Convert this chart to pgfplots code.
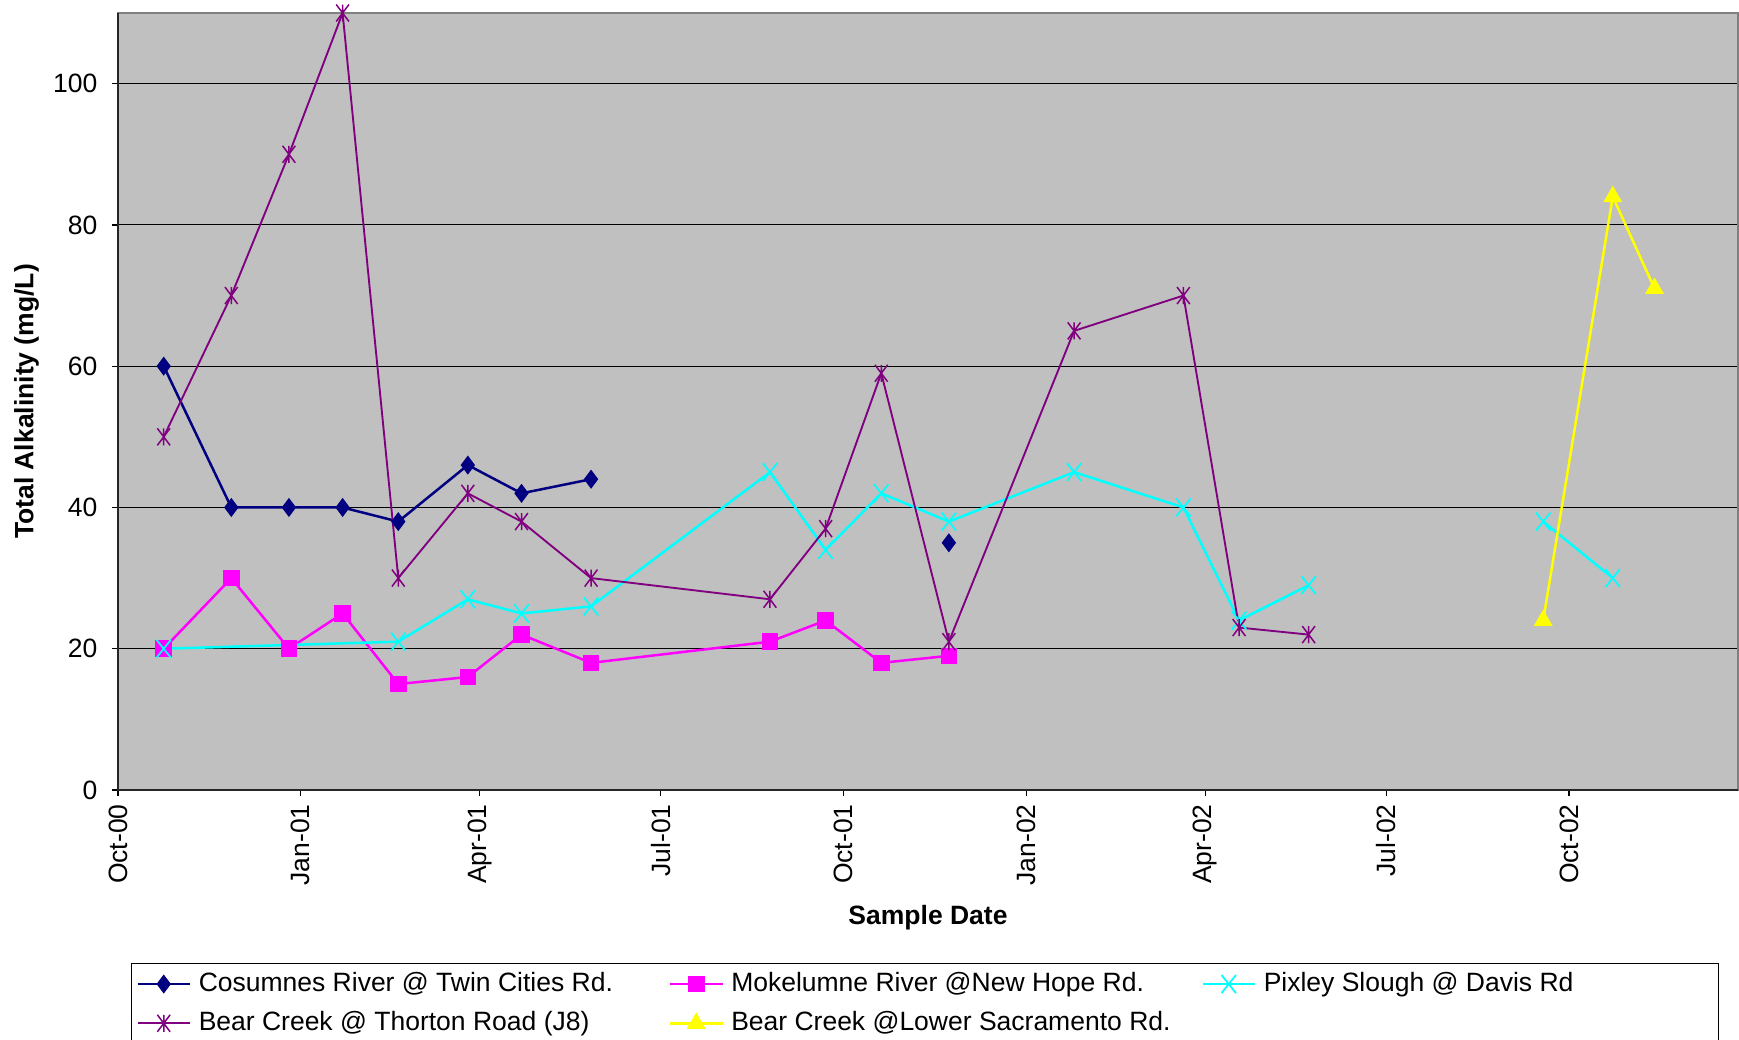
\documentclass[border=0pt]{standalone}
\usepackage{pgfplots}
\pgfplotsset{compat=1.18}
\usepackage{fontspec}
\setmainfont{Liberation Sans}
\definecolor{bgray}{RGB}{192,192,192}
\definecolor{navy}{RGB}{0,0,128}
\definecolor{mag}{RGB}{255,0,255}
\definecolor{cyn}{RGB}{0,255,255}
\definecolor{purp}{RGB}{128,0,128}
\definecolor{yel}{RGB}{255,255,0}
\definecolor{frame}{RGB}{128,128,128}
\pgfdeclareplotmark{xstar}{%
  \pgfpathmoveto{\pgfqpoint{-.75\pgfplotmarksize}{-\pgfplotmarksize}}%
  \pgfpathlineto{\pgfqpoint{.75\pgfplotmarksize}{\pgfplotmarksize}}%
  \pgfpathmoveto{\pgfqpoint{-.75\pgfplotmarksize}{\pgfplotmarksize}}%
  \pgfpathlineto{\pgfqpoint{.75\pgfplotmarksize}{-\pgfplotmarksize}}%
  \pgfpathmoveto{\pgfqpoint{0pt}{-\pgfplotmarksize}}%
  \pgfpathlineto{\pgfqpoint{0pt}{\pgfplotmarksize}}%
  \pgfusepathqstroke}
\pgfdeclareplotmark{xcross}{%
  \pgfpathmoveto{\pgfqpoint{-.8\pgfplotmarksize}{-\pgfplotmarksize}}%
  \pgfpathlineto{\pgfqpoint{.8\pgfplotmarksize}{\pgfplotmarksize}}%
  \pgfpathmoveto{\pgfqpoint{-.8\pgfplotmarksize}{\pgfplotmarksize}}%
  \pgfpathlineto{\pgfqpoint{.8\pgfplotmarksize}{-\pgfplotmarksize}}%
  \pgfusepathqstroke}
\newcommand{\fs}{\fontsize{10.6}{12.7}\selectfont}
\begin{document}
\begin{tikzpicture}
\path[use as bounding box] (-47.2pt,-99.6pt) rectangle (648.4pt,316pt);
\clip (-47.2pt,-99.6pt) rectangle (648.4pt,316pt);
\begin{axis}[
  at={(0pt,0pt)}, anchor=south west,
  scale only axis, width=648pt, height=310.8pt,
  xmin=0, xmax=815, ymin=0, ymax=110,
  clip=false,
  unbounded coords=jump,
  xtick={0,92,182,273,365,457,547,638,730},
  xticklabels={Oct-00,Jan-01,Apr-01,Jul-01,Oct-01,Jan-02,Apr-02,Jul-02,Oct-02},
  ytick={0,20,40,60,80,100},
  /pgf/number format/assume math mode=true,
  tick label style={font=\fs},
  x tick label style={rotate=90, anchor=east},
  y tick label style={xshift=-2.5pt},
  tick align=outside, tick pos=left, major tick length=2.2pt,
  tick style={black, line width=0.5pt},
  ymajorgrids, grid style={black, line width=0.4pt},
  axis background/.style={fill=bgray},
  axis line style={draw=frame, line width=0.8pt},
  xlabel={Sample Date},
  ylabel={Total Alkalinity (mg/L)},
  label style={font=\fs\bfseries},
  xlabel style={at={(axis description cs:0.5,-0.1647)}, anchor=center},
  ylabel style={at={(axis description cs:-0.0565,0.5)}, anchor=center},
  legend columns=3,
  legend cell align=left,
  legend image code/.code={\draw[mark repeat=2,mark phase=2] plot coordinates {(0pt,0pt) (10.5pt,0pt) (21pt,0pt)};},
  legend style={at={(0.00802,-0.2227)}, anchor=north west, draw=black, fill=white,
    font=\fs, inner xsep=1.9pt, inner ysep=0.8pt, row sep=0.9pt,
    nodes={inner xsep=3pt, inner ysep=1.5pt, text height=8.8pt, text depth=3pt},
    /tikz/every even column/.append style={column sep=5pt}},
  after end axis/.code={\draw[black!85, line width=0.6pt] (rel axis cs:0,1) -- (rel axis cs:0,0) -- (rel axis cs:1,0);},
]
\addplot[navy, line width=1pt, mark=diamond*, mark size=3pt, mark options={fill=navy, draw=navy}]
  coordinates {(23,60) (57,40) (86,40) (113,40) (141,38) (176,46) (203,42) (238,44) (300,nan) (418,35)};
\addlegendentry{\makebox[180pt][l]{Cosumnes River @ Twin Cities Rd.}}
\addplot[mag, line width=1pt, mark=square*, mark size=2.8pt, mark options={fill=mag, draw=mag}]
  coordinates {(23,20) (57,30) (86,20) (113,25) (141,15) (176,16) (203,22) (238,18) (328,21) (356,24) (384,18) (418,19)};
\addlegendentry{\makebox[180pt][l]{Mokelumne River @New Hope Rd.}}
\addplot[cyn, line width=1pt, mark=xcross, mark size=3.6pt, mark options={line width=0.7pt}]
  coordinates {(23,20) (141,21) (176,27) (203,25) (238,26) (328,45) (356,34) (384,42) (418,38) (481,45) (536,40) (564,24) (599,29) (650,nan) (717,38) (752,30)};
\addlegendentry{\makebox[177pt][l]{Pixley Slough @ Davis Rd}}
\addplot[purp, line width=0.75pt, mark=xstar, mark size=3.4pt, mark options={line width=0.6pt}]
  coordinates {(23,50) (57,70) (86,90) (113,110) (141,30) (176,42) (203,38) (238,30) (328,27) (356,37) (384,59) (418,21) (481,65) (536,70) (564,23) (599,22)};
\addlegendentry{\makebox[180pt][l]{Bear Creek @ Thorton Road (J8)}}
\addplot[yel, line width=1pt, mark=triangle*, mark size=3.4pt, mark options={fill=yel, draw=yel}]
  coordinates {(717,24) (752,84) (773,71)};
\addlegendentry{\makebox[180pt][l]{Bear Creek @Lower Sacramento Rd.}}
\end{axis}
\end{tikzpicture}
\end{document}
